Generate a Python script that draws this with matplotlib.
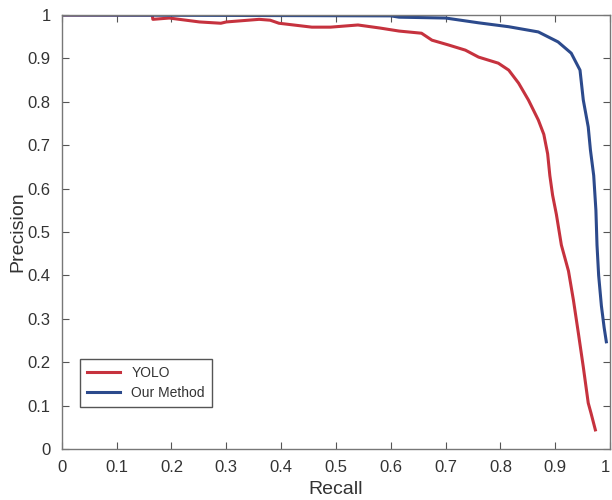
import matplotlib.pyplot as plt

plt.rcParams['font.family'] = ['Liberation Sans', 'DejaVu Sans']

# YOLO precision-recall curve
yolo_recall = [0.0, 0.165, 0.166, 0.196, 0.251, 0.29, 0.3, 0.36, 0.38, 0.396, 0.456, 0.49,
               0.54, 0.58, 0.615, 0.656, 0.675, 0.705, 0.736, 0.76, 0.796, 0.815, 0.833,
               0.851, 0.869, 0.879, 0.886, 0.890, 0.895, 0.902, 0.911, 0.924, 0.933,
               0.942, 0.951, 0.96, 0.965, 0.973]
yolo_precision = [1.0, 1.0, 0.99, 0.993, 0.984, 0.981, 0.984, 0.99, 0.988, 0.981, 0.972, 0.972,
                  0.977, 0.97, 0.963, 0.958, 0.942, 0.931, 0.919, 0.903, 0.889, 0.873, 0.843,
                  0.804, 0.758, 0.725, 0.68, 0.63, 0.585, 0.54, 0.47, 0.41, 0.343,
                  0.267, 0.189, 0.106, 0.083, 0.044]

# Our Method precision-recall curve
ours_recall = [0.0, 0.6, 0.615, 0.7, 0.76, 0.815, 0.869, 0.905, 0.929, 0.945, 0.951,
               0.96, 0.964, 0.970, 0.974, 0.976, 0.979, 0.984, 0.989, 0.993]
ours_precision = [1.0, 0.998, 0.995, 0.993, 0.982, 0.973, 0.961, 0.938, 0.912, 0.873, 0.804,
                  0.742, 0.689, 0.63, 0.55, 0.47, 0.40, 0.33, 0.28, 0.247]

fig = plt.figure(figsize=(6.12, 5.0), dpi=100)
ax = fig.add_axes([0.101, 0.102, 0.896, 0.868])

ax.plot(yolo_recall, yolo_precision, color='#c6323e', lw=2.2, label='YOLO')
ax.plot(ours_recall, ours_precision, color='#2c4a8c', lw=2.2, label='Our Method')

ax.set_xlim(0, 1)
ax.set_ylim(0, 1)
ticks = [i / 10 for i in range(11)]
ax.set_xticks(ticks)
ax.set_yticks(ticks)
labels = ['0'] + ['%.1f' % t for t in ticks[1:-1]] + ['1']
ax.set_xticklabels(labels)
ax.set_yticklabels(labels)
ax.tick_params(direction='in', top=True, right=True, length=5, labelsize=12,
               colors='#555555', labelcolor='#333333', pad=8)
ax.get_xticklabels()[-1].set_horizontalalignment('right')
for s in ax.spines.values():
    s.set_color('#777777')
    s.set_linewidth(1.0)

ax.set_xlabel('Recall', fontsize=14, color='#333333', labelpad=4)
ax.set_ylabel('Precision', fontsize=14, color='#333333', labelpad=1)

leg = ax.legend(loc='lower left', bbox_to_anchor=(0.033, 0.097), borderaxespad=0,
                fontsize=10, fancybox=False, framealpha=1, edgecolor='#555555',
                handlelength=2.4, borderpad=0.5, labelspacing=0.45, handletextpad=0.8)
for t in leg.get_texts():
    t.set_color('#333333')

plt.savefig('out.png', dpi=100)
